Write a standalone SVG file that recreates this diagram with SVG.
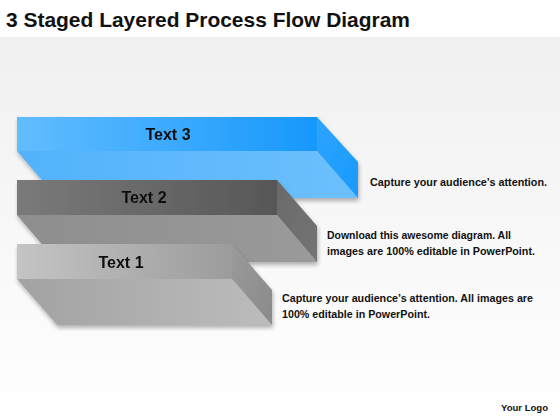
<svg xmlns="http://www.w3.org/2000/svg" width="560" height="420" viewBox="0 0 560 420">
<defs>
<linearGradient id="bg" x1="0" y1="0" x2="0" y2="1"><stop offset="0" stop-color="#f0f0f0"/><stop offset="1" stop-color="#ffffff"/></linearGradient>
<linearGradient id="b3top" x1="0" y1="0" x2="1" y2="0"><stop offset="0" stop-color="#62bdff"/><stop offset="1" stop-color="#1798fc"/></linearGradient>
<linearGradient id="b3bot" x1="0" y1="0" x2="1" y2="0"><stop offset="0" stop-color="#52b2fb"/><stop offset="1" stop-color="#6cc0fd"/></linearGradient>
<linearGradient id="b3side" x1="0" y1="0" x2="1" y2="1"><stop offset="0" stop-color="#2ea4fd"/><stop offset="1" stop-color="#189afd"/></linearGradient>
<linearGradient id="b2top" x1="0" y1="0" x2="1" y2="0"><stop offset="0" stop-color="#7a7a7a"/><stop offset="1" stop-color="#575757"/></linearGradient>
<linearGradient id="b2bot" x1="0" y1="0" x2="1" y2="0"><stop offset="0" stop-color="#8e8e8e"/><stop offset="1" stop-color="#9a9a9a"/></linearGradient>
<linearGradient id="b2side" x1="0" y1="0" x2="1" y2="1"><stop offset="0" stop-color="#6a6a6a"/><stop offset="1" stop-color="#747474"/></linearGradient>
<linearGradient id="b1top" x1="0" y1="0" x2="1" y2="0"><stop offset="0" stop-color="#c4c4c4"/><stop offset="1" stop-color="#9c9c9c"/></linearGradient>
<linearGradient id="b1bot" x1="0" y1="0" x2="1" y2="0"><stop offset="0" stop-color="#a2a2a2"/><stop offset="1" stop-color="#bcbcbc"/></linearGradient>
<linearGradient id="b1side" x1="0" y1="0" x2="1" y2="1"><stop offset="0" stop-color="#9a9a9a"/><stop offset="1" stop-color="#8a8a8a"/></linearGradient>
<filter id="sh" x="-10%" y="-10%" width="130%" height="140%"><feGaussianBlur in="SourceAlpha" stdDeviation="2"/><feOffset dx="1" dy="3"/><feComponentTransfer><feFuncA type="linear" slope="0.3"/></feComponentTransfer><feMerge><feMergeNode/><feMergeNode in="SourceGraphic"/></feMerge></filter>
</defs>
<style>
.title{font-family:"Liberation Sans",Arial,sans-serif;font-weight:bold;font-size:21px;fill:#111}
.lbl{font-family:"Liberation Sans",Arial,sans-serif;font-weight:bold;font-size:16px;fill:#111;text-anchor:middle}
.desc{font-family:"Liberation Sans",Arial,sans-serif;font-weight:bold;font-size:10.5px;fill:#111}
.logo{font-family:"Liberation Sans",Arial,sans-serif;font-weight:bold;font-size:9px;fill:#111}
</style>
<rect x="0" y="0" width="560" height="420" fill="#ffffff"/>
<rect x="0" y="37" width="560" height="383" fill="url(#bg)"/>
<text class="title" x="6" y="27" textLength="404" lengthAdjust="spacingAndGlyphs">3 Staged Layered Process Flow Diagram</text>

<g id="stage3" filter="url(#sh)">
<polygon points="17,151 317,151 358,198 57,198" fill="url(#b3bot)"/>
<polygon points="317,117 358,162 358,198 317,151" fill="url(#b3side)"/>
<rect x="17" y="117" width="300" height="34" fill="url(#b3top)"/>
<text class="lbl" x="168" y="140">Text 3</text>
</g>
<g id="stage2" filter="url(#sh)">
<polygon points="17,215 277,215 317,262 57,262" fill="url(#b2bot)"/>
<polygon points="277,180 317,226 317,262 277,215" fill="url(#b2side)"/>
<rect x="17" y="180" width="260" height="35" fill="url(#b2top)"/>
<text class="lbl" x="144" y="203">Text 2</text>
</g>
<g id="stage1" filter="url(#sh)">
<polygon points="17,279 232,279 272,325 57,325" fill="url(#b1bot)"/>
<polygon points="232,244 272,290 272,325 232,279" fill="url(#b1side)"/>
<rect x="17" y="244" width="215" height="35" fill="url(#b1top)"/>
<text class="lbl" x="121" y="268">Text 1</text>
</g>

<g id="desc3"><text class="desc" x="370" y="186" textLength="177" lengthAdjust="spacingAndGlyphs">Capture your audience’s attention.</text></g>
<g id="desc2">
<text class="desc" x="327" y="239" textLength="184" lengthAdjust="spacingAndGlyphs">Download this awesome diagram. All</text>
<text class="desc" x="327" y="255" textLength="208" lengthAdjust="spacingAndGlyphs">images are 100% editable in PowerPoint.</text>
</g>
<g id="desc1">
<text class="desc" x="282" y="302" textLength="251" lengthAdjust="spacingAndGlyphs">Capture your audience’s attention. All images are</text>
<text class="desc" x="282" y="318" textLength="148" lengthAdjust="spacingAndGlyphs">100% editable in PowerPoint.</text>
</g>
<text class="logo" x="501" y="411" textLength="47" lengthAdjust="spacingAndGlyphs">Your Logo</text>
</svg>
